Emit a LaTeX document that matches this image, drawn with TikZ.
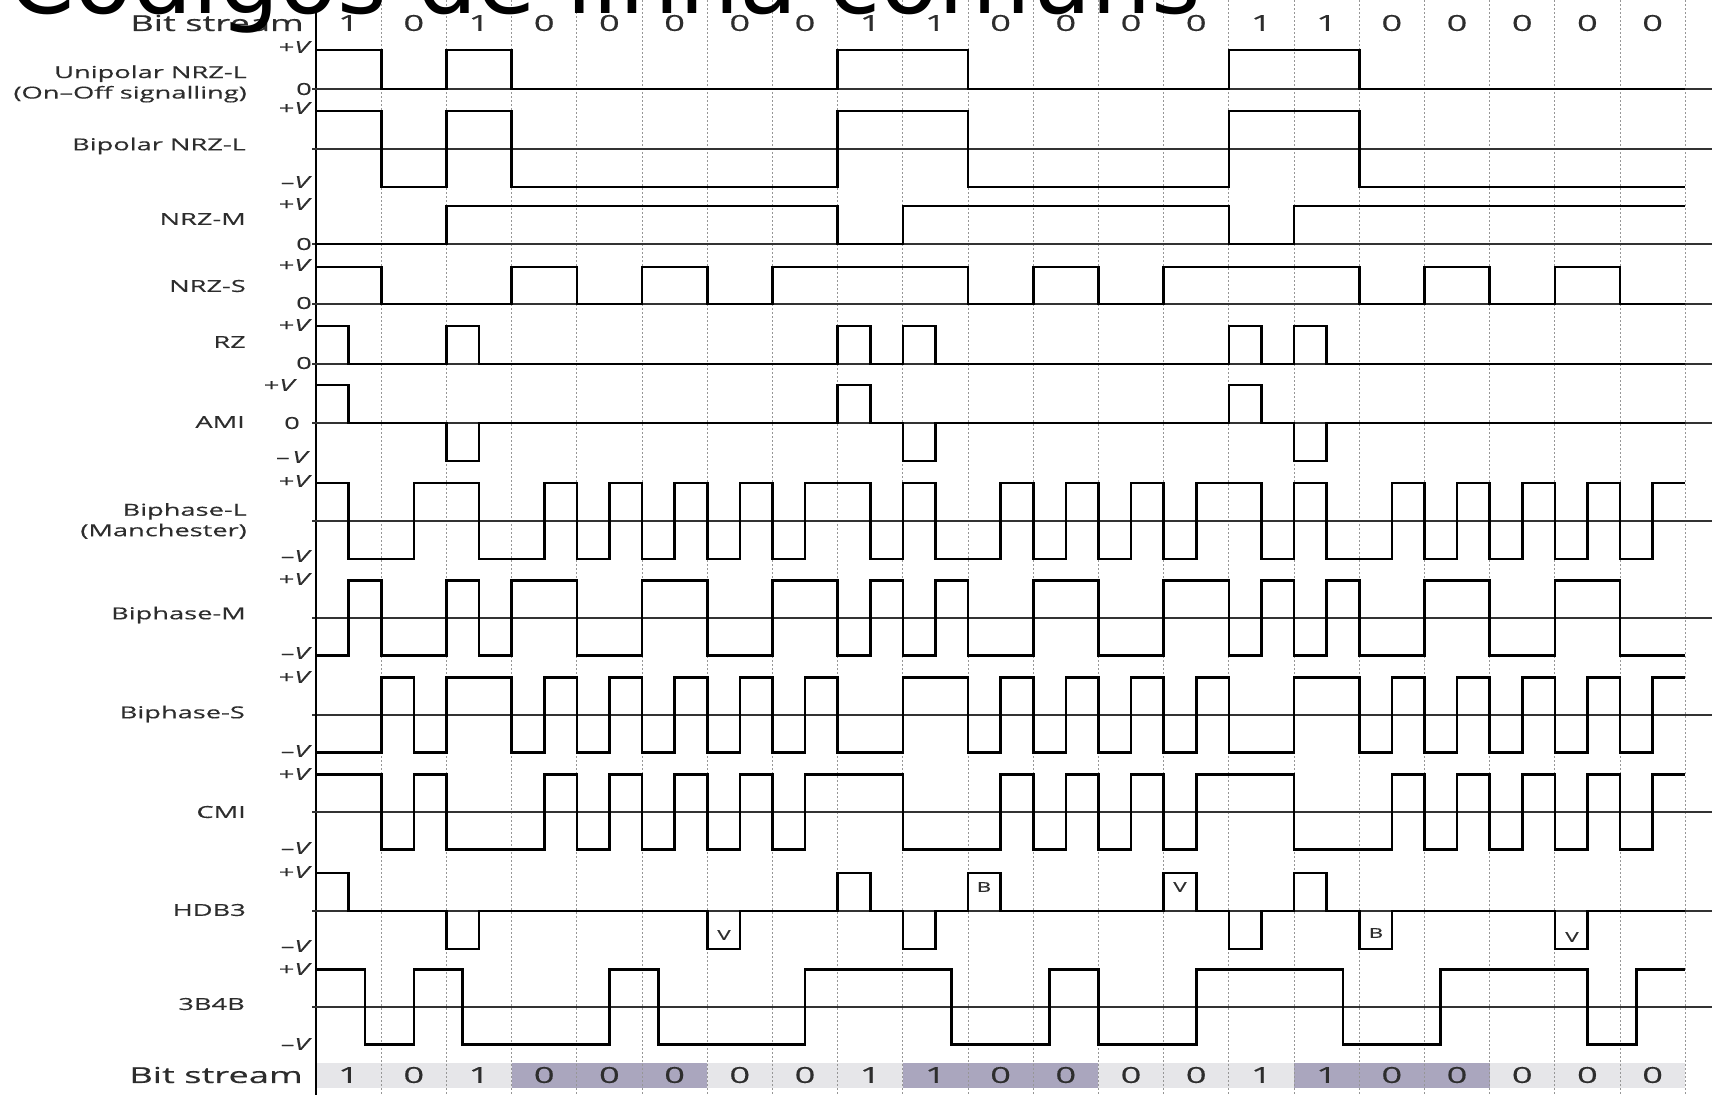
\documentclass[tikz,border=0pt]{standalone}
\usepackage{fontspec}
\setmainfont{Open Sans}
\newfontfamily\labfont{Open Sans}[FakeStretch=1.65, FakeBold=0.4]
\newfontfamily\titlefont{DejaVu Sans}
\usepackage{tikz}

\definecolor{inkgray}{RGB}{45,45,45}
\definecolor{gridgray}{RGB}{150,150,150}
\definecolor{darkband}{RGB}{170,166,190}
\definecolor{lightband}{RGB}{230,230,233}

% axis at x = 316, one bit = 65.2
\newcommand{\xo}{316}
\newcommand{\wave}[5]{% zero line, amplitude, segment width, start level, levels
  \draw[sig] (\xo,{#1-(#4)*#2}) \foreach \lv [count=\k from 0] in {#5} {
    -- ({\xo+\k*#3},{#1-(\lv)*#2}) -- ({\xo+(\k+1)*#3},{#1-(\lv)*#2}) };}

\begin{document}
\begin{tikzpicture}[x=1pt, y=-1pt,
    sig/.style={line width=2.6pt, line join=miter, black},
    zeroline/.style={line width=1.3pt, black!80},
    gridline/.style={line width=0.9pt, gridgray, dash pattern=on 2pt off 2pt},
    rowlabel/.style={anchor=east, inner sep=0pt, text=inkgray, align=right,
      font=\labfont\fontsize{16.5}{20.5}\selectfont},
    lvl/.style={anchor=east, inner sep=0pt, text=inkgray,
      font=\labfont\fontsize{16.5}{17}\selectfont},
    bitnum/.style={inner sep=0pt, text=inkgray, font=\labfont\fontsize{22}{22}\selectfont},
    hdbtag/.style={inner sep=0pt, text=inkgray, font=\labfont\fontsize{13.5}{14}\selectfont}]
  \useasboundingbox (0,0) rectangle (1715,1095);

  % bands behind the lower bit stream (3-bit groups)
  \foreach \g in {0,2,4,6}
    \fill[lightband] ({\xo+\g*195.6},1063) rectangle ({\xo+(\g+1)*195.6},1088);
  \foreach \g in {1,3,5}
    \fill[darkband] ({\xo+\g*195.6},1063) rectangle ({\xo+(\g+1)*195.6},1088);

  % bit grid and axis
  \foreach \i in {1,...,21}
    \draw[gridline] ({\xo+\i*65.2},0) -- ({\xo+\i*65.2},1095);
  \draw[line width=1.8pt] (\xo,10) -- (\xo,1095);

  % zero / middle lines
  \foreach \y in {89,149,244,304,364,423,521,618,715,812,911,1007}
    \draw[zeroline] (312,\y) -- (1712,\y);

  % bit streams
  \foreach \b [count=\i from 0] in {1,0,1,0,0,0,0,0,1,1,0,0,0,0,1,1,0,0,0,0,0} {
    \node[bitnum] (top-\i) at ({\xo+\i*65.2+32.6},23) {\b};
    \node[bitnum] (bot-\i) at ({\xo+\i*65.2+32.6},1075) {\b};
  }
  \node[bitnum, anchor=east] (bs-top) at (304,23) {Bit stream};
  \node[bitnum, anchor=east] (bs-bot) at (303,1075) {Bit stream};

  % waveforms
  \wave{89}{39}{65.2}{1}{1,0,1,0,0,0,0,0,1,1,0,0,0,0,1,1,0,0,0,0,0}
  \wave{149}{38}{65.2}{1}{1,-1,1,-1,-1,-1,-1,-1,1,1,-1,-1,-1,-1,1,1,-1,-1,-1,-1,-1}
  \wave{244}{38}{65.2}{1}{0,0,1,1,1,1,1,1,0,1,1,1,1,1,0,1,1,1,1,1,1}
  \wave{304}{37}{65.2}{1}{1,0,0,1,0,1,0,1,1,1,0,1,0,1,1,1,0,1,0,1,0}
  \wave{364}{38}{32.6}{1}{1,0,0,0,1,0,0,0,0,0,0,0,0,0,0,0,1,0,1,0,0,0,0,0,0,0,0,0,1,0,1,0,0,0,0,0,0,0,0,0,0,0}
  \wave{423}{38}{32.6}{1}{1,0,0,0,-1,0,0,0,0,0,0,0,0,0,0,0,1,0,-1,0,0,0,0,0,0,0,0,0,1,0,-1,0,0,0,0,0,0,0,0,0,0,0}
  \wave{521}{38}{32.6}{1}{1,-1,-1,1,1,-1,-1,1,-1,1,-1,1,-1,1,-1,1,1,-1,1,-1,-1,1,-1,1,-1,1,-1,1,1,-1,1,-1,-1,1,-1,1,-1,1,-1,1,-1,1}
  \wave{618}{37.5}{32.6}{1}{-1,1,-1,-1,1,-1,1,1,-1,-1,1,1,-1,-1,1,1,-1,1,-1,1,-1,-1,1,1,-1,-1,1,1,-1,1,-1,1,-1,-1,1,1,-1,-1,1,1,-1,-1}
  \wave{715}{37.5}{32.6}{1}{-1,-1,1,-1,1,1,-1,1,-1,1,-1,1,-1,1,-1,1,-1,-1,1,1,-1,1,-1,1,-1,1,-1,1,-1,-1,1,1,-1,1,-1,1,-1,1,-1,1,-1,1}
  \wave{812}{37.5}{32.6}{1}{1,1,-1,1,-1,-1,-1,1,-1,1,-1,1,-1,1,-1,1,1,1,-1,-1,-1,1,-1,1,-1,1,-1,1,1,1,-1,-1,-1,1,-1,1,-1,1,-1,1,-1,1}
  \wave{911}{38}{32.6}{1}{1,0,0,0,-1,0,0,0,0,0,0,0,-1,0,0,0,1,0,-1,0,1,0,0,0,0,0,1,0,-1,0,1,0,-1,0,0,0,0,0,-1,0,0,0}
  \wave{1007}{37.5}{48.9}{1}{1,-1,1,-1,-1,-1,1,-1,-1,-1,1,1,1,-1,-1,1,-1,-1,1,1,1,-1,-1,1,1,1,-1,1}

  % HDB3 bipolar violations and balancing pulses
  \node[hdbtag] (hdb-v1) at (724,935) {V};
  \node[hdbtag] (hdb-b1) at (984,887) {B};
  \node[hdbtag] (hdb-v2) at (1180,887) {V};
  \node[hdbtag] (hdb-b2) at (1376,933) {B};
  \node[hdbtag] (hdb-v3) at (1572,937) {V};

  % row names
  \node[rowlabel] (lab-uni) at (247,84) {Unipolar NRZ-L\\(On–Off signalling)};
  \node[rowlabel] (lab-bip) at (246,146) {Bipolar NRZ-L};
  \node[rowlabel] (lab-nrzm) at (246,219) {NRZ-M};
  \node[rowlabel] (lab-nrzs) at (246,286) {NRZ-S};
  \node[rowlabel] (lab-rz) at (246,342) {RZ};
  \node[rowlabel] (lab-ami) at (245,422) {AMI};
  \node[rowlabel] (lab-bil) at (247,521) {Biphase-L\\(Manchester)};
  \node[rowlabel] (lab-bim) at (246,615) {Biphase-M};
  \node[rowlabel] (lab-bis) at (245,714) {Biphase-S};
  \node[rowlabel] (lab-cmi) at (246,812) {CMI};
  \node[rowlabel] (lab-hdb) at (246,910) {HDB3};
  \node[rowlabel] (lab-3b4b) at (245,1004) {3B4B};

  % level marks
  \foreach \y [count=\n] in {47,108,204,265,325,481,579,677,774,872,969}
    \node[lvl] (hi-\n) at (312,\y) {+\textit{V}};
  \foreach \y [count=\n] in {182,556,653,751,848,946,1044}
    \node[lvl] (lo-\n) at (312,\y) {–\textit{V}};
  \foreach \y [count=\n] in {89,244,303,363}
    \node[lvl] (nil-\n) at (312,\y) {0};
  \node[lvl] (ami-hi) at (297,385) {+\textit{V}};
  \node[lvl, anchor=center] (ami-nil) at (292,423) {0};
  \node[lvl] (ami-lo) at (310,457) {–\,\textit{V}};

  % slide title, cut by the top edge
  \node[anchor=base west, inner sep=0pt, font=\titlefont\fontsize{95}{95}\selectfont]
    (title) at (8,13) {Códigos de linha comuns};
\end{tikzpicture}
\end{document}
